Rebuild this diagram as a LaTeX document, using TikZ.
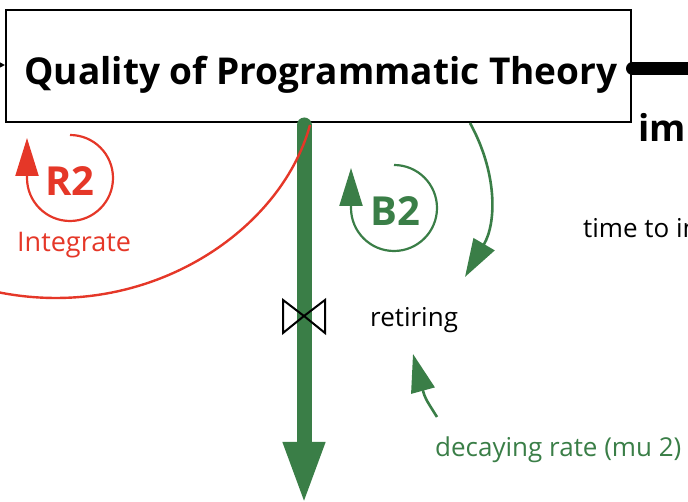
\documentclass[tikz,border=0pt]{standalone}
\usepackage{fontspec}
\setmainfont{Open Sans}
\usetikzlibrary{arrows.meta}
\definecolor{sdgreen}{RGB}{58,126,71}
\definecolor{sdred}{RGB}{229,55,40}
\tikzset{
  x=1pt, y=1pt,
  stockbox/.style={draw=black, line width=2.2pt, fill=white, minimum width=625pt, minimum height=112pt, inner sep=0pt},
  flowpipe/.style={draw=sdgreen, line width=15pt, line cap=round, -{Triangle[length=63pt,width=38pt]}},
  infolink/.style={draw=sdgreen, line width=2.6pt, -{Triangle[length=38pt,width=24pt]}},
  reinforce/.style={draw=sdred, line width=2.4pt},
  loopgreen/.style={draw=sdgreen, line width=2.2pt, -{Triangle[length=38pt,width=23pt]}},
  loopred/.style={draw=sdred, line width=2.2pt, -{Triangle[length=38pt,width=23pt]}},
  plain/.style={inner sep=0pt, anchor=base west, font=\fontsize{26}{30}\selectfont},
  looplabel/.style={inner sep=0pt, font=\bfseries\fontsize{40}{44}\selectfont},
}
\begin{document}
\begin{tikzpicture}
\useasboundingbox (0,0) rectangle (688,502);
\clip (0,0) rectangle (688,502);

% stock
\node[stockbox] (title) at (318.5,436) {};
\node[inner sep=0pt, font=\bfseries\fontsize{37}{42}\selectfont] (titletext) at (321,427) {Quality of Programmatic Theory};

% small inflow arrow at left edge
\coordinate (inl) at (-12,437);
\draw[line width=1.2pt, -{Triangle[length=5pt,width=5pt]}] (inl) -- (title.west |- inl);

% outflow pipe to the right
\coordinate (outr) at (700,433.5);
\coordinate (outstart) at (632.5,433.5);
\fill (outstart) circle[radius=6.5];
\draw[line width=13pt] (outstart) -- (outr);
\node[inner sep=0pt, anchor=base west, font=\bfseries\fontsize{37}{42}\selectfont] (imtext) at (638,360) {im};

% main flow (retiring)
\coordinate (flowtop) at (304,377);
\coordinate (flowend) at (304,-3);
\draw[flowpipe] (flowtop) -- (flowend);

% valve
\coordinate (valve) at (304,186);
\draw[line width=2pt, line join=miter] (valve) -- (283,202) -- (283,169) -- cycle;
\draw[line width=2pt, line join=miter] (valve) -- (325,202) -- (325,169) -- cycle;
\node[plain] (retiring) at (370,175) {retiring};

% red reinforcing link
\coordinate (redend) at (-12,212);
\draw[reinforce] (310,377) .. controls (280,267) and (140,176) .. (redend);

% green link from stock to retiring
\coordinate (linkstart) at (470,379);
\coordinate (linktip) at (465,225);
\draw[infolink] (linkstart) .. controls (497,330) and (497,280) .. (linktip);

% decaying rate
\node[plain, text=sdgreen] (decay) at (435,45) {decaying rate (mu 2)};
\coordinate (decstart) at (437,85);
\coordinate (dectip) at (413,148);
\draw[infolink] (decstart) .. controls (425,104) .. (dectip);

% time to ...
\node[plain] (timeto) at (583,264) {time to in};

% B2 loop
\draw[loopgreen] (394,337) arc[start angle=90, end angle=-180, radius=43] -- ++(0,40);
\node[looplabel, text=sdgreen] (b2) at (395,291) {B2};

% R2 loop
\draw[loopred] (70,367) arc[start angle=90, end angle=-180, radius=43] -- ++(0,40);
\node[looplabel, text=sdred] (r2) at (70,321) {R2};
\node[plain, text=sdred, font=\fontsize{27}{30}\selectfont] (integrate) at (17,250) {Integrate};
\end{tikzpicture}
\end{document}
